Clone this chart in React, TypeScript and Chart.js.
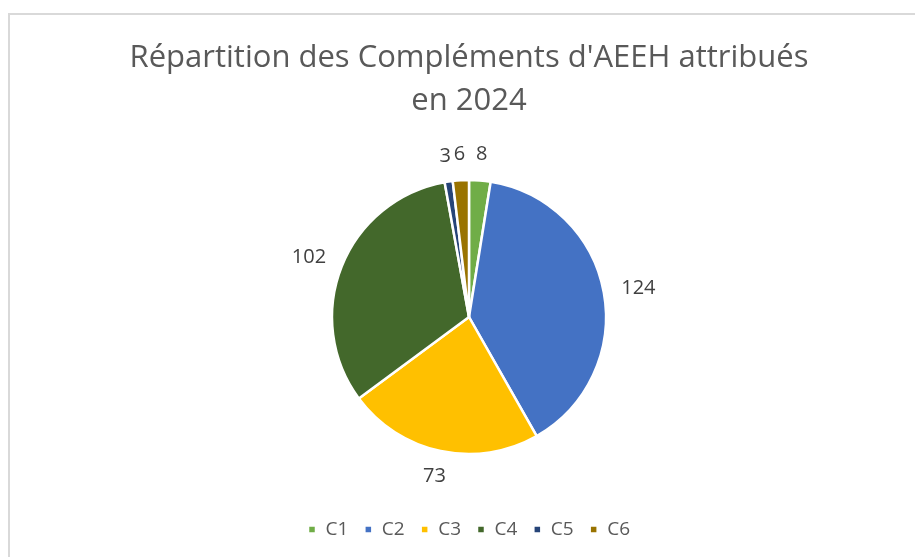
import React, { useEffect, useRef } from "react";
import { Chart, registerables } from "chart.js";

Chart.register(...registerables);

const TITLE_LINES = ["Répartition des Compléments d'AEEH attribués", "en 2024"];
const CATEGORIES = ["C1", "C2", "C3", "C4", "C5", "C6"];
const VALUES = [8, 124, 73, 102, 3, 6];
const COLORS = ["#70AD47", "#4472C4", "#FFC000", "#43682B", "#264478", "#997300"];

const FONT = "'Open Sans', 'Noto Sans', sans-serif";

const outsideLabels = {
  id: "outsideLabels",
  afterDatasetsDraw(chart: any) {
    const ctx = chart.ctx;
    const meta = chart.getDatasetMeta(0);
    const data = chart.data.datasets[0].data;
    ctx.save();
    ctx.font = `20px ${FONT}`;
    ctx.fillStyle = "#404040";
    ctx.textAlign = "center";
    ctx.textBaseline = "middle";
    meta.data.forEach((arc: any, i: number) => {
      const p = arc.getProps(["x", "y", "startAngle", "endAngle", "outerRadius"], true);
      const mid = (p.startAngle + p.endAngle) / 2;
      const txt = String(data[i]);
      const w = ctx.measureText(txt).width;
      const h = 16;
      const d = p.outerRadius + 18;
      const cx = p.x + Math.cos(mid) * (d + w / 2);
      const cy = p.y + Math.sin(mid) * (d + h / 2);
      ctx.fillText(txt, cx, cy);
    });
    ctx.restore();
  },
};

export default function App() {
  const ref = useRef<HTMLCanvasElement | null>(null);
  useEffect(() => {
    if (!ref.current) return;
    const chart = new Chart(ref.current, {
      type: "pie",
      data: {
        labels: CATEGORIES,
        datasets: [
          {
            data: VALUES,
            backgroundColor: COLORS,
            borderColor: "#ffffff",
            borderWidth: 2.5,
            radius: 137,
          } as any,
        ],
      },
      options: {
        responsive: false,
        animation: false,
        layout: { padding: { left: 23, right: 0, top: 0, bottom: 8 } },
        plugins: {
          title: {
            display: true,
            text: TITLE_LINES,
            color: "#595959",
            font: { family: FONT, size: 31, weight: "normal", lineHeight: "43px" } as any,
            padding: { top: 37, bottom: 7 },
          },
          legend: {
            display: true,
            position: "bottom",
            labels: {
              boxWidth: 8,
              boxHeight: 8,
              padding: 16,
              color: "#595959",
              font: { family: FONT, size: 19 },
            },
          },
          tooltip: { enabled: false },
        },
      },
      plugins: [outsideLabels],
    });
    return () => chart.destroy();
  }, []);

  return (
    <div style={{ position: "fixed", left: 0, top: 0, width: 915, height: 557, background: "#ffffff", overflow: "hidden" }}>
      <div
        style={{
          position: "absolute",
          left: 8,
          top: 13,
          width: 930,
          height: 570,
          borderLeft: "2px solid #D9D9D9",
          borderTop: "2px solid #D9D9D9",
        }}
      />
      <canvas ref={ref} width={915} height={557} style={{ position: "absolute", left: 0, top: 0 }} />
    </div>
  );
}
